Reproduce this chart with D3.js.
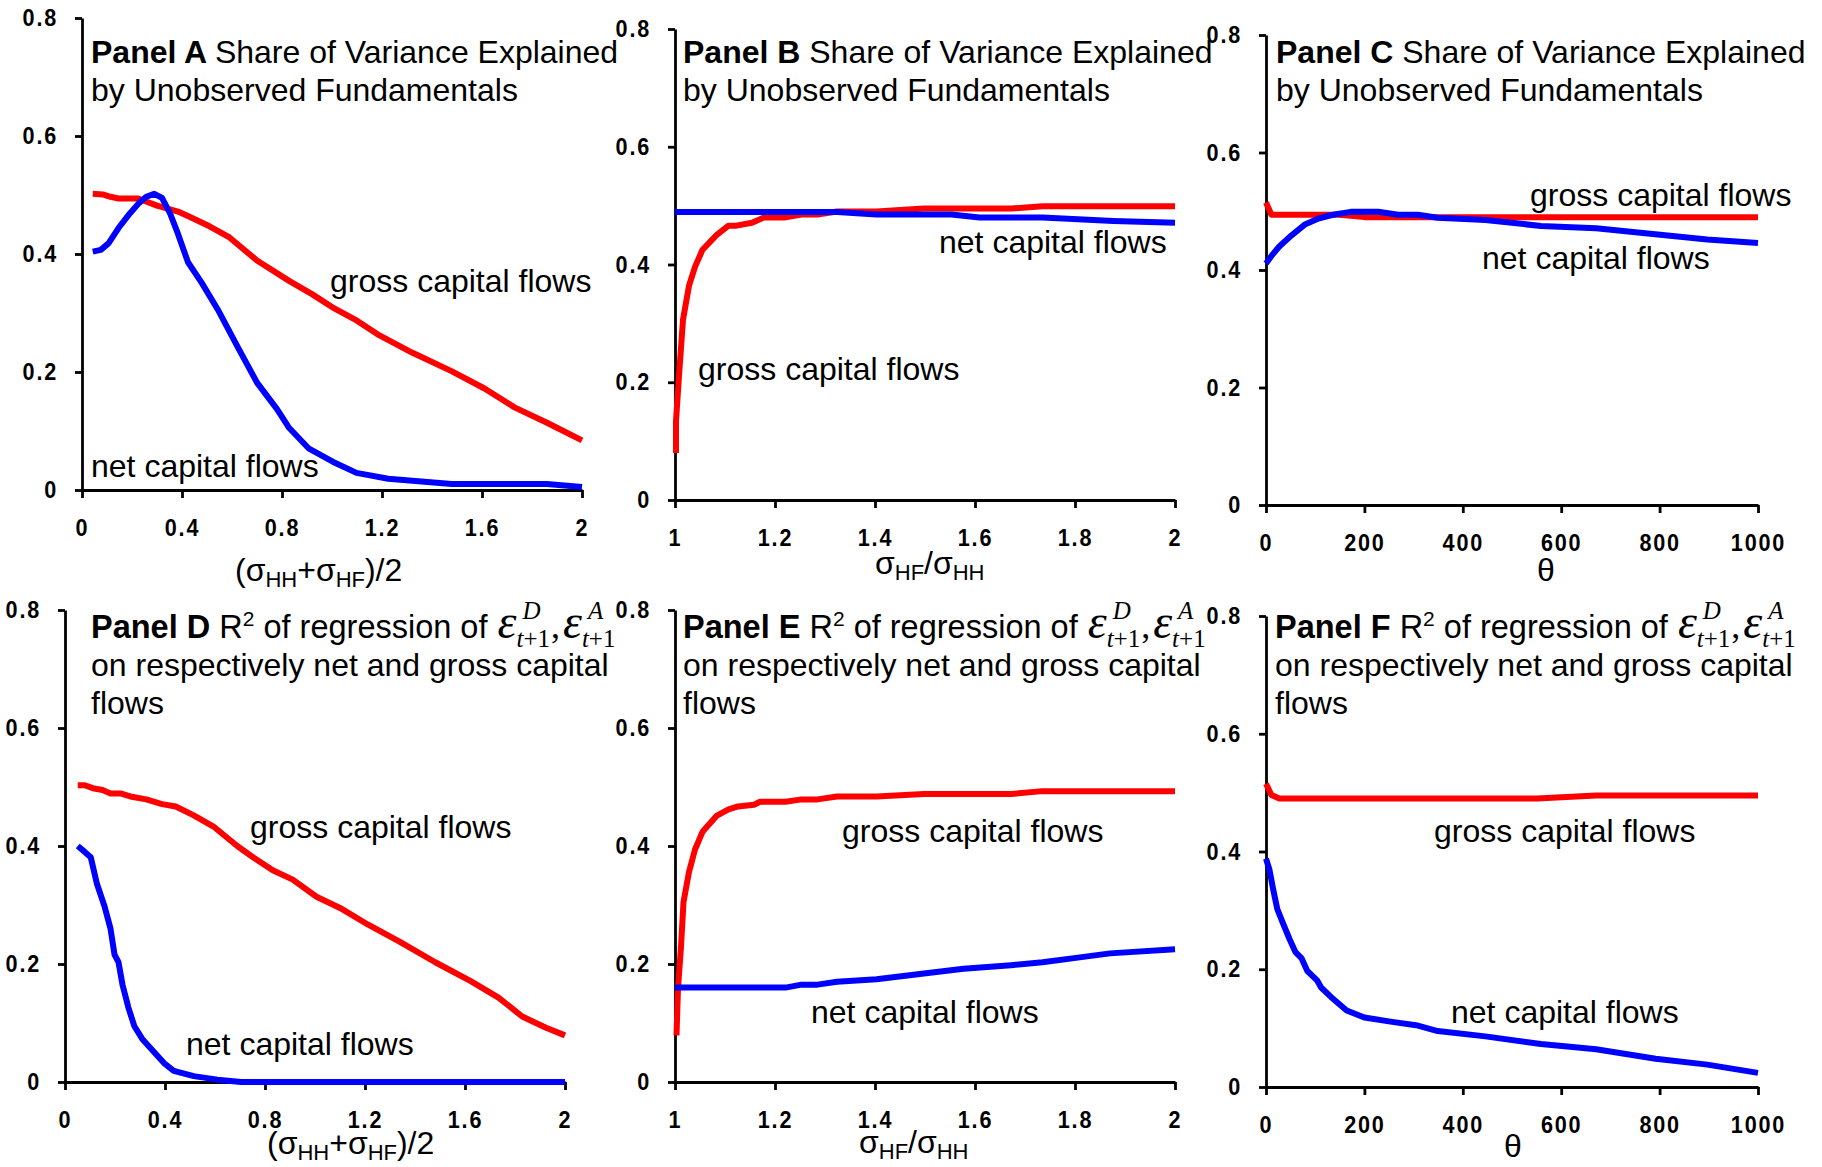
<!DOCTYPE html>
<html>
<head>
<meta charset="utf-8">
<script src="https://cdn.jsdelivr.net/npm/d3@7"></script>
<style>
  body { margin: 0; background: #fff; }
  text { white-space: pre; }
</style>
</head>
<body>
<svg width="1822" height="1167"></svg>
<script>
// TICKS
const sigmaTicks = [0, 0.4, 0.8, 1.2, 1.6, 2];
const ratioTicks = [1, 1.2, 1.4, 1.6, 1.8, 2];
const thetaTicks = [0, 200, 400, 600, 800, 1000];
const shareTicks = [0, 0.2, 0.4, 0.6, 0.8];

// DATA  [x, value]
const grossA = [[0.043,0.502],[0.083,0.501],[0.114,0.497],[0.146,0.494],[0.225,0.494],[0.30,0.482],[0.384,0.472],[0.43,0.463],[0.51,0.447],[0.59,0.428],[0.70,0.389],[0.83,0.354],[0.92,0.332],[1.00,0.310],[1.10,0.287],[1.19,0.262],[1.32,0.233],[1.48,0.201],[1.61,0.172],[1.73,0.140],[1.86,0.114],[2.00,0.084]];
const netA = [[0.043,0.404],[0.075,0.407],[0.106,0.418],[0.146,0.444],[0.186,0.466],[0.225,0.485],[0.257,0.497],[0.289,0.502],[0.32,0.495],[0.352,0.469],[0.384,0.434],[0.424,0.386],[0.479,0.351],[0.543,0.306],[0.622,0.243],[0.70,0.182],[0.78,0.137],[0.829,0.105],[0.908,0.070],[1.003,0.048],[1.098,0.029],[1.225,0.019],[1.479,0.010],[1.86,0.010],[2.0,0.005]];

const grossB = [[1.002,0.080],[1.002,0.134],[1.008,0.211],[1.016,0.306],[1.028,0.364],[1.04,0.396],[1.055,0.425],[1.083,0.450],[1.107,0.466],[1.123,0.466],[1.154,0.471],[1.178,0.480],[1.221,0.480],[1.253,0.485],[1.285,0.485],[1.324,0.490],[1.403,0.490],[1.498,0.495],[1.672,0.495],[1.735,0.499],[2.0,0.499]];
const netB = [[1.0,0.489],[1.324,0.489],[1.403,0.485],[1.553,0.485],[1.609,0.480],[1.735,0.480],[1.877,0.474],[2.0,0.471]];

const grossC = [[0,0.515],[11,0.494],[150,0.494],[200,0.490],[1000,0.490]];
const netC = [[0,0.411],[11,0.424],[27,0.440],[52,0.459],[80,0.478],[108,0.488],[136,0.494],[172,0.499],[228,0.499],[269,0.494],[309,0.494],[349,0.489],[446,0.485],[559,0.475],[671,0.471],[776,0.462],[897,0.452],[1000,0.446]];

const grossD = [[0.051,0.503],[0.079,0.503],[0.111,0.498],[0.150,0.495],[0.182,0.489],[0.222,0.489],[0.261,0.484],[0.325,0.479],[0.388,0.471],[0.443,0.467],[0.515,0.452],[0.594,0.433],[0.689,0.400],[0.752,0.381],[0.831,0.359],[0.911,0.343],[1.006,0.314],[1.10,0.295],[1.211,0.267],[1.338,0.238],[1.481,0.203],[1.623,0.171],[1.734,0.143],[1.829,0.111],[1.924,0.092],[2.0,0.079]];
const netD = [[0.051,0.400],[0.079,0.390],[0.103,0.381],[0.127,0.337],[0.158,0.298],[0.182,0.260],[0.198,0.216],[0.214,0.203],[0.230,0.165],[0.253,0.127],[0.277,0.095],[0.309,0.073],[0.356,0.051],[0.396,0.032],[0.435,0.019],[0.515,0.010],[0.61,0.004],[0.705,0.0],[2.0,0.0]];

const grossE = [[1.003,0.079],[1.006,0.159],[1.012,0.229],[1.017,0.305],[1.028,0.356],[1.04,0.394],[1.055,0.424],[1.083,0.451],[1.107,0.462],[1.126,0.467],[1.158,0.470],[1.170,0.475],[1.221,0.475],[1.253,0.479],[1.285,0.479],[1.324,0.484],[1.403,0.484],[1.498,0.488],[1.672,0.488],[1.735,0.493],[2.0,0.493]];
const netE = [[1.0,0.160],[1.221,0.160],[1.253,0.165],[1.285,0.165],[1.324,0.170],[1.403,0.174],[1.498,0.184],[1.577,0.192],[1.672,0.198],[1.735,0.203],[1.798,0.210],[1.870,0.218],[2.0,0.225]];

const grossF = [[0,0.515],[11,0.496],[27,0.490],[551,0.490],[671,0.495],[1000,0.495]];
const netF = [[0,0.388],[7,0.369],[15,0.334],[23,0.302],[35,0.277],[48,0.251],[60,0.229],[72,0.219],[84,0.197],[104,0.181],[112,0.169],[132,0.153],[164,0.130],[200,0.118],[253,0.111],[305,0.105],[349,0.095],[446,0.086],[559,0.073],[671,0.064],[792,0.048],[897,0.038],[1000,0.024]];

// TEXTS
const topTitle = ["Share of Variance Explained", "by Unobserved Fundamentals"];
const bottomTitle = ["on respectively net and gross capital", "flows"];
const epsSupers = ["D", "A"];
const grossLabel = "gross capital flows";
const netLabel = "net capital flows";

const SANS = "'Liberation Sans', Arial, sans-serif";
const NARROW = "'Liberation Sans Narrow', 'Arial Narrow', 'Liberation Sans', Arial, sans-serif";
const SERIF = "'Liberation Serif', 'Times New Roman', serif";

// LAYOUT
const panels = [
  { letter: "A", kind: "top", xr: [82, 582], yr: [490, 18], xd: [0, 2], xt: sigmaTicks, gross: grossA, net: netA,
    tx: 91, ty: 63, axisTitle: "avg", atx: 235, aty: 581, gl: [330, 292], nl: [91, 477] },
  { letter: "B", kind: "top", xr: [675, 1175], yr: [500, 29], xd: [1, 2], xt: ratioTicks, gross: grossB, net: netB,
    tx: 683, ty: 63, axisTitle: "ratio", atx: 875, aty: 574, gl: [698, 380], nl: [939, 253] },
  { letter: "C", kind: "top", xr: [1266, 1758], yr: [505, 35], xd: [0, 1000], xt: thetaTicks, gross: grossC, net: netC,
    tx: 1276, ty: 63, axisTitle: "theta", atx: 1546, aty: 581, gl: [1530, 206], nl: [1482, 269] },
  { letter: "D", kind: "bottom", xr: [65, 565], yr: [1082, 610], xd: [0, 2], xt: sigmaTicks, gross: grossD, net: netD,
    tx: 91, ty: 638, axisTitle: "avg", atx: 267, aty: 1154, gl: [250, 838], nl: [186, 1055] },
  { letter: "E", kind: "bottom", xr: [675, 1175], yr: [1082, 610], xd: [1, 2], xt: ratioTicks, gross: grossE, net: netE,
    tx: 683, ty: 638, axisTitle: "ratio", atx: 859, aty: 1153, gl: [842, 842], nl: [811, 1023] },
  { letter: "F", kind: "bottom", xr: [1266, 1758], yr: [1087, 616], xd: [0, 1000], xt: thetaTicks, gross: grossF, net: netF,
    tx: 1275, ty: 638, axisTitle: "theta", atx: 1513, aty: 1157, gl: [1434, 842], nl: [1451, 1023] }
];

const svg = d3.select("svg");
svg.append("rect").attr("width", 1822).attr("height", 1167).attr("fill", "#fff");

const fmt = d3.format("~g");
const squeeze = 0.9; // tick digits are narrow in the original

function drawAxisTitle(g, p) {
  if (p.axisTitle === "theta") {
    g.append("text").attr("x", p.atx).attr("y", p.aty)
      .attr("text-anchor", "middle").attr("font-family", SANS).attr("font-size", 32)
      .text("θ");
    return;
  }
  const t = g.append("text").attr("x", p.atx).attr("y", p.aty)
    .attr("font-family", SANS).attr("font-size", 32);
  const parts = p.axisTitle === "avg"
    ? [["(σ", 0], ["HH", 1], ["+σ", 0], ["HF", 1], [")/2", 0]]
    : [["σ", 0], ["HF", 1], ["/σ", 0], ["HH", 1]];
  let shifted = false;
  parts.forEach(([s, sub]) => {
    const ts = t.append("tspan").text(s);
    if (sub) { ts.attr("font-size", 22).attr("dy", 6); shifted = true; }
    else if (shifted) { ts.attr("dy", -6); shifted = false; }
  });
}

function drawEps(g, x0, y0, sup, withComma) {
  const t = g.append("text").attr("x", x0).attr("y", y0).attr("font-family", SERIF);
  t.append("tspan").attr("font-style", "italic").attr("font-size", 48).text("ε");
  const ew = t.node().getComputedTextLength();
  const sub = t.append("tspan").attr("x", x0 + ew).attr("dy", 9).attr("font-size", 25);
  sub.append("tspan").attr("font-style", "italic").text("t");
  sub.append("tspan").text("+1");
  const sw = t.node().getComputedTextLength() - ew;
  t.append("tspan").attr("x", x0 + ew + 6).attr("dy", -28)
    .attr("font-style", "italic").attr("font-size", 25).text(sup);
  let w = ew + sw;
  if (withComma) {
    t.append("tspan").attr("x", x0 + w + 1).attr("dy", 19).attr("font-size", 36).text(",");
    w += 13;
  }
  return w;
}

function drawTitle(g, p) {
  const fs = 32, lh = 38;
  const t1 = g.append("text").attr("x", p.tx).attr("y", p.ty)
    .attr("font-family", SANS).attr("font-size", p.kind === "top" ? fs : 32.5);
  t1.append("tspan").attr("font-weight", "bold").text("Panel " + p.letter + " ");
  if (p.kind === "top") {
    t1.append("tspan").text(topTitle[0]);
    g.append("text").attr("x", p.tx).attr("y", p.ty + lh)
      .attr("font-family", SANS).attr("font-size", fs).text(topTitle[1]);
    return;
  }
  t1.append("tspan").text("R");
  t1.append("tspan").attr("font-size", 21).attr("dy", -12).text("2");
  t1.append("tspan").attr("dy", 12).text(" of regression of ");
  let cx = p.tx + t1.node().getComputedTextLength() + 1;
  epsSupers.forEach((s, i) => {
    cx += drawEps(g, cx, p.ty, s, i === 0);
  });
  bottomTitle.forEach((line, i) => {
    g.append("text").attr("x", p.tx).attr("y", p.ty + lh * (i + 1))
      .attr("font-family", SANS).attr("font-size", fs).text(line);
  });
}

panels.forEach(p => {
  const g = svg.append("g");
  const x = d3.scaleLinear().domain(p.xd).range(p.xr);
  const y = d3.scaleLinear().domain([0, 0.8]).range(p.yr);

  // AXES
  const xAxis = g.append("g")
    .attr("transform", `translate(0,${p.yr[0]})`)
    .call(d3.axisBottom(x).tickValues(p.xt).tickFormat(fmt).tickSize(8).tickSizeOuter(0).tickPadding(21));
  const yAxis = g.append("g")
    .attr("transform", `translate(${p.xr[0]},0)`)
    .call(d3.axisLeft(y).tickValues(shareTicks).tickFormat(fmt).tickSize(7).tickSizeOuter(0).tickPadding(16));
  [xAxis, yAxis].forEach(a => {
    a.selectAll("path, line").attr("stroke", "#000").attr("stroke-width", 2.8);
    a.selectAll("text")
      .attr("font-family", NARROW).attr("font-weight", "bold")
      .attr("font-size", 24).attr("letter-spacing", 2).attr("fill", "#000");
  });
  xAxis.selectAll("text").attr("transform", `scale(${squeeze},1)`);
  yAxis.selectAll("text")
    .attr("x", -24 / squeeze)
    .attr("transform", `scale(${squeeze},1)`);

  // LINES
  const line = d3.line().x(d => x(d[0])).y(d => y(d[1]));
  g.append("path").datum(p.gross).attr("d", line)
    .attr("fill", "none").attr("stroke", "#ff0000").attr("stroke-width", 6).attr("stroke-linejoin", "round");
  g.append("path").datum(p.net).attr("d", line)
    .attr("fill", "none").attr("stroke", "#0000ff").attr("stroke-width", 6).attr("stroke-linejoin", "round");

  // LABELS
  g.append("text").attr("x", p.gl[0]).attr("y", p.gl[1])
    .attr("font-family", SANS).attr("font-size", 32).text(grossLabel);
  g.append("text").attr("x", p.nl[0]).attr("y", p.nl[1])
    .attr("font-family", SANS).attr("font-size", 32).text(netLabel);

  drawTitle(g, p);
  drawAxisTitle(g, p);
});
</script>
</body>
</html>
